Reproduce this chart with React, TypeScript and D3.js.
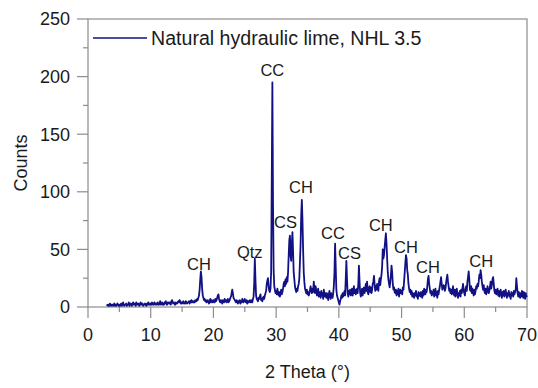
import React from 'react';
import * as d3 from 'd3';

const START = 3.0;
const STEP = 0.1;
// counts from 3.0° to 70.0°, one row per degree (0.1° step)
const counts: number[] = [
  1,2,1,2,1,3,2,1,2,2,
  1,2,3,1,2,1,2,3,2,1,
  2,1,2,3,1,2,4,2,1,2,
  2,3,1,2,2,4,1,2,3,2,
  1,3,4,2,2,3,1,4,2,2,
  3,2,1,3,4,2,2,3,1,2,
  2,3,2,1,3,2,4,2,3,2,
  3,2,4,3,2,3,4,2,3,3,
  2,4,3,2,3,5,2,3,4,2,
  3,2,4,3,5,3,2,4,3,4,
  3,4,2,5,6,4,3,4,3,2,
  4,3,3,4,5,4,6,5,3,4,
  3,4,5,3,4,3,5,4,3,4,
  4,5,3,5,4,6,4,5,4,5,
  4,6,5,5,7,6,8,10,15,24,
  31,26,16,10,8,6,7,5,6,4,
  5,6,4,3,5,7,4,6,5,4,
  6,5,4,7,5,6,8,10,11,7,
  5,4,6,5,3,6,5,4,7,5,
  6,4,5,7,4,5,6,8,9,12,
  15,12,8,7,6,5,4,6,5,3,
  5,4,6,3,5,4,7,5,4,6,
  7,5,4,6,3,5,4,5,6,4,
  5,6,4,7,9,20,42,24,10,7,
  6,5,8,7,9,11,6,7,5,8,
  9,7,10,12,14,20,23,25,18,14,
  13,16,30,110,195,90,32,18,15,12,
  14,11,16,12,10,13,9,12,15,11,
  13,16,20,22,18,24,20,26,22,30,
  45,58,62,44,40,55,65,48,30,24,
  18,15,13,16,14,18,20,25,40,55,
  80,93,75,50,30,22,16,14,12,15,
  11,13,10,12,15,18,14,12,16,13,
  22,15,12,18,14,10,12,16,9,13,
  11,8,14,10,12,7,15,11,9,12,
  8,12,10,6,11,14,9,7,12,10,
  8,12,18,30,55,35,15,10,8,6,
  4,2,5,7,10,8,12,9,11,14,
  10,25,40,24,12,9,14,11,15,10,
  12,16,10,13,18,12,15,11,14,16,
  12,20,36,22,12,9,13,16,10,14,
  17,12,15,20,14,22,13,11,16,18,
  13,17,12,15,20,22,27,20,14,18,
  15,20,18,14,22,25,19,24,28,35,
  50,42,45,52,58,64,55,42,30,24,
  20,17,22,28,36,30,20,15,17,13,
  12,15,10,14,11,16,9,13,15,12,
  14,11,17,15,22,30,38,45,42,32,
  28,20,16,13,15,11,14,9,12,10,
  8,12,10,14,9,11,7,13,10,12,
  9,13,11,8,14,10,16,12,11,15,
  13,18,24,27,20,16,12,14,10,13,
  11,15,9,12,16,10,13,8,14,11,
  15,18,22,26,20,15,17,19,18,14,
  16,21,25,28,22,18,14,16,12,15,
  11,14,18,12,10,15,9,13,16,11,
  8,12,10,14,9,15,12,16,20,14,
  12,10,16,18,14,22,26,31,24,15,
  14,18,12,16,13,10,15,11,14,18,
  16,20,18,22,28,25,32,28,22,18,
  15,19,14,12,16,11,13,18,15,12,
  14,18,22,16,19,24,26,20,14,12,
  15,11,13,16,10,14,9,12,15,11,
  8,13,10,14,9,12,15,11,8,12,
  10,14,9,11,7,13,10,12,9,14,
  11,13,15,25,18,12,9,13,10,8,
  12,9,14,10,8,13,11,7,12,9,
  10,
];

const xTicks = [0, 10, 20, 30, 40, 50, 60, 70];
const xMinor = [5, 15, 25, 35, 45, 55, 65];
const yTicks = [0, 50, 100, 150, 200, 250];
const yMinor = [25, 75, 125, 175, 225];

const labelText = ['CH', 'Qtz', 'CC', 'CS', 'CH', 'CC', 'CS', 'CH', 'CH', 'CH', 'CH'];
const labelTheta = [17.7, 25.8, 29.4, 31.5, 33.95, 39.06, 41.7, 46.7, 50.7, 54.2, 62.7];
const labelCount = [32, 42.5, 200.5, 68.6, 99, 59, 41.7, 66, 46.9, 29.5, 34.7];

const legendLabel = 'Natural hydraulic lime, NHL 3.5';
const xTitle = '2 Theta (\u00b0)';
const yTitle = 'Counts';

const W = 538;
const H = 388;
const L = 88, R = 527, T = 19, B = 307;
const FONT = '"Liberation Sans", Arial, sans-serif';
const LINE = '#111184';
const AXIS = '#8c8c8c';

export default function App() {
  const x = d3.scaleLinear().domain([0, 70]).range([L, R]);
  const y = d3.scaleLinear().domain([0, 250]).range([B, T]);
  const pts: [number, number][] = counts.map((c, i) => [START + i * STEP, c]);
  const line = d3.line<[number, number]>().x(d => x(d[0])).y(d => y(d[1]));

  return (
    <svg width={W} height={H} style={{ position: 'absolute', left: 0, top: 0, background: '#fff' }} fontFamily={FONT}>
      <rect x={0} y={0} width={W} height={H} fill="#fff" />
      {/* frame */}
      <rect x={L} y={T} width={R - L} height={B - T} fill="none" stroke={AXIS} strokeWidth={1.2} />
      {/* x ticks */}
      {xTicks.map(t => (
        <g key={'x' + t}>
          <line x1={x(t)} x2={x(t)} y1={B} y2={B + 11} stroke={AXIS} strokeWidth={1.2} />
          <text x={x(t)} y={341} fontSize={18} textAnchor="middle" fill="#1a1a1a">{t}</text>
        </g>
      ))}
      {xMinor.map(t => (
        <line key={'xm' + t} x1={x(t)} x2={x(t)} y1={B} y2={B + 5} stroke={AXIS} strokeWidth={1.2} />
      ))}
      {/* y ticks */}
      {yTicks.map(t => (
        <g key={'y' + t}>
          <line x1={L - 11} x2={L} y1={y(t)} y2={y(t)} stroke={AXIS} strokeWidth={1.2} />
          <text x={70} y={y(t)} dy="0.36em" fontSize={18} textAnchor="end" fill="#1a1a1a">{t}</text>
        </g>
      ))}
      {yMinor.map(t => (
        <line key={'ym' + t} x1={L - 5} x2={L} y1={y(t)} y2={y(t)} stroke={AXIS} strokeWidth={1.2} />
      ))}
      {/* data */}
      <path d={line(pts) || ''} fill="none" stroke={LINE} strokeWidth={1.8} strokeLinejoin="round" />
      {/* peak labels */}
      {labelText.map((s, i) => (
        <text key={'l' + i} x={x(labelTheta[i])} y={y(labelCount[i])} fontSize={16.5} textAnchor="middle" fill="#1a1a1a">{s}</text>
      ))}
      {/* legend */}
      <line x1={93} x2={147} y1={38} y2={38} stroke={LINE} strokeWidth={1.5} />
      <text x={151} y={44.5} fontSize={19.6} fill="#1a1a1a">{legendLabel}</text>
      {/* axis titles */}
      <text x={(L + R) / 2} y={378} fontSize={18} textAnchor="middle" fill="#1a1a1a">{xTitle}</text>
      <text transform={`translate(27,${(T + B) / 2}) rotate(-90)`} fontSize={18} textAnchor="middle" fill="#1a1a1a">{yTitle}</text>
    </svg>
  );
}
